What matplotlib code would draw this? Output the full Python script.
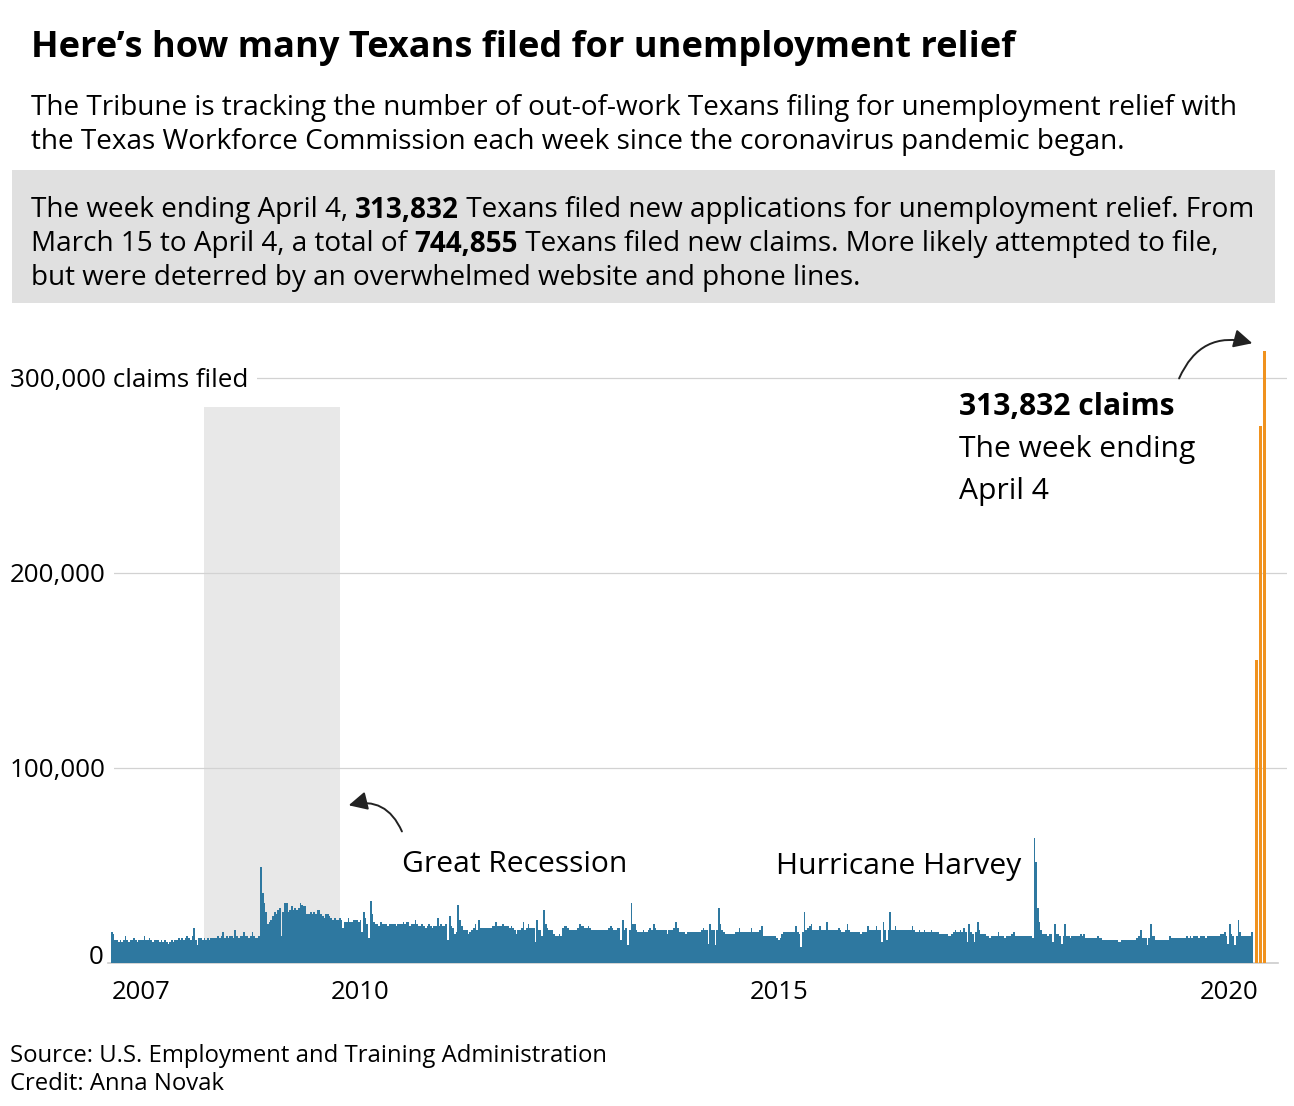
import matplotlib
matplotlib.use("Agg")
import matplotlib.pyplot as plt
from matplotlib.patches import Rectangle, FancyArrowPatch
import numpy as np

# ---------------- data ----------------
# weekly initial claims (thousands), from mid-2007 through the week ending March 14, 2020
claims_k = [
    16, 15, 12, 12, 11, 12, 11, 12, 14, 12, 11, 12, 12, 13, 12, 11, 12, 12, 12, 14,
    12, 12, 13, 12, 11, 12, 12, 12, 11, 12, 11, 12, 11, 10, 11, 12, 11, 12, 12, 13,
    12, 13, 12, 13, 14, 13, 12, 14, 18, 12, 9, 13, 13, 12, 13, 12, 13, 12, 13, 13,
    13, 13, 14, 13, 14, 16, 13, 14, 13, 14, 14, 13, 17, 14, 13, 14, 14, 16, 14, 14,
    13, 14, 16, 14, 13, 13, 14, 49, 36, 31, 26, 20, 21, 22, 24, 26, 25, 27, 28, 14,
    26, 31, 31, 26, 27, 29, 27, 28, 27, 28, 31, 30, 29, 29, 25, 25, 26, 25, 26, 25,
    27, 27, 25, 24, 23, 25, 25, 24, 23, 22, 23, 22, 22, 23, 22, 18, 21, 21, 23, 21,
    21, 22, 22, 22, 21, 22, 16, 26, 23, 20, 13, 32, 25, 21, 20, 20, 19, 21, 20, 20,
    20, 19, 20, 20, 20, 20, 19, 20, 20, 20, 21, 20, 21, 21, 19, 20, 20, 22, 20, 19,
    19, 20, 19, 18, 19, 20, 19, 18, 19, 19, 23, 19, 20, 19, 19, 20, 12, 24, 19, 18,
    15, 16, 30, 22, 19, 17, 17, 17, 15, 16, 17, 18, 20, 17, 22, 18, 18, 18, 18, 18,
    18, 18, 19, 19, 21, 19, 19, 19, 20, 19, 19, 19, 18, 19, 18, 17, 15, 17, 17, 18,
    21, 17, 18, 20, 18, 18, 18, 11, 22, 17, 17, 14, 27, 20, 18, 17, 17, 17, 15, 14,
    14, 15, 14, 18, 19, 19, 18, 17, 17, 17, 17, 17, 18, 20, 19, 19, 18, 18, 19, 18,
    17, 17, 17, 17, 17, 17, 17, 17, 17, 17, 18, 19, 18, 17, 17, 18, 18, 12, 22, 17,
    18, 9, 17, 31, 20, 20, 17, 16, 16, 16, 17, 16, 16, 17, 18, 17, 20, 18, 17, 17,
    17, 17, 17, 17, 15, 17, 17, 17, 18, 21, 18, 16, 16, 16, 16, 15, 16, 16, 16, 16,
    16, 16, 16, 16, 17, 18, 17, 17, 10, 20, 17, 17, 9, 17, 28, 20, 17, 16, 15, 15,
    15, 15, 15, 15, 16, 16, 18, 16, 16, 16, 16, 16, 16, 18, 16, 16, 16, 16, 17, 19,
    14, 14, 14, 14, 14, 14, 14, 14, 13, 12, 13, 15, 16, 16, 16, 16, 16, 16, 16, 19,
    16, 15, 8, 16, 26, 17, 18, 19, 20, 17, 17, 17, 17, 19, 17, 17, 17, 21, 17, 17,
    17, 17, 17, 17, 18, 17, 16, 16, 17, 20, 17, 16, 16, 16, 16, 16, 16, 15, 16, 16,
    16, 19, 17, 17, 17, 17, 19, 17, 17, 11, 21, 17, 12, 17, 26, 17, 17, 19, 17, 17,
    17, 17, 17, 17, 17, 17, 17, 19, 17, 16, 16, 17, 16, 16, 17, 16, 16, 16, 17, 16,
    16, 16, 16, 15, 15, 15, 15, 15, 14, 14, 15, 16, 17, 16, 16, 17, 16, 18, 16, 11,
    20, 16, 15, 11, 16, 21, 17, 15, 15, 15, 14, 14, 13, 14, 14, 14, 14, 16, 14, 14,
    14, 13, 14, 14, 14, 15, 16, 14, 14, 14, 14, 14, 14, 14, 14, 14, 14, 13, 64, 52,
    28, 21, 17, 15, 15, 15, 14, 15, 15, 11, 20, 15, 15, 14, 10, 14, 20, 14, 14, 13,
    14, 14, 14, 14, 14, 15, 14, 15, 13, 13, 13, 13, 13, 13, 13, 14, 13, 13, 12, 12,
    12, 12, 12, 12, 12, 12, 12, 11, 11, 12, 12, 12, 12, 12, 12, 12, 12, 12, 13, 14,
    17, 13, 13, 13, 9, 13, 20, 14, 14, 12, 12, 12, 12, 12, 12, 12, 12, 14, 13, 13,
    13, 13, 13, 13, 13, 13, 13, 14, 13, 14, 13, 14, 14, 14, 13, 14, 14, 14, 13, 14,
    14, 14, 14, 14, 14, 14, 14, 15, 15, 16, 14, 10, 20, 15, 14, 9, 14, 22, 16, 14,
    14, 14, 14, 14, 14, 16,
]
# pandemic weeks: weeks ending March 21, March 28, April 4, 2020
pandemic_weeks = ["March 21", "March 28", "April 4"]
pandemic_claims = [155426, 275597, 313832]

# x-axis year labels and the week index each sits under
year_labels = ["2007", "2010", "2015", "2020"]
year_label_week = [17.0, 144.7, 389.1, 651.5]

# Great Recession shading (week index span)
recession_weeks = (53.7, 133.0)
recession_top = 285000

y_ticks = [100000, 200000, 300000]
y_tick_labels = ["100,000", "200,000", "300,000 claims filed"]

# ---------------- styling ----------------
W, H = 1294, 1106
BLUE = "#2e78a0"
ORANGE = "#f0921e"
FONT = "Open Sans"
plt.rcParams["font.family"] = [FONT, "DejaVu Sans"]
DY = 2.5  # small downward nudge for text centring

fig = plt.figure(figsize=(W / 100, H / 100), dpi=100)


def fx(px):
    return px / W


def fy(py):
    return 1 - py / H


def ty(py):
    return fy(py + DY)


# axes geometry (pixels)
ax_left, ax_right = 10, 1287
ax_bottom, ax_top_val = 963, 325000
px_per_k = 1.95
ax_top = ax_bottom - ax_top_val / 1000 * px_per_k
ax = fig.add_axes([fx(ax_left), fy(ax_bottom), fx(ax_right) - fx(ax_left), (ax_bottom - ax_top) / H])

n = len(claims_k)
bar_left_px, bar_right_px = 111, 1253
w_px = (bar_right_px - bar_left_px) / n
x0 = (ax_left - bar_left_px) / w_px - 0.5
x1 = (ax_right - bar_left_px) / w_px - 0.5
ax.set_xlim(x0, x1)
ax.set_ylim(0, ax_top_val)
ax.axis("off")

weeks = np.arange(n)
vals = np.array(claims_k) * 1000
ax.bar(weeks, vals, width=1.0, color=BLUE, linewidth=0, zorder=3)

gap = 2.5
p_pos = n + 1.3 + gap * np.arange(len(pandemic_claims))
ax.bar(p_pos, pandemic_claims, width=1.8, color=ORANGE, linewidth=0, zorder=3)

# recession shade
ax.axvspan(recession_weeks[0], recession_weeks[1], ymin=0, ymax=recession_top / ax_top_val,
           color="#e8e8e8", zorder=0.5, linewidth=0)

# gridlines + labels
dy_val = DY / px_per_k * 1000
for v, lab in zip(y_ticks, y_tick_labels):
    ax.axhline(v, color="#d2d2d2", linewidth=0.9, zorder=1)
    ax.text(x0, v - dy_val, lab, fontsize=18.7, ha="left", va="center", zorder=2,
            bbox=dict(facecolor="white", edgecolor="none", pad=6))
ax.plot([-2, n + 14], [0, 0], color="#cccccc", linewidth=1.2, zorder=2, clip_on=False)
fig.text(fx(104), ty(955), "0", fontsize=18.7, ha="right", va="center")

for lab, pos in zip(year_labels, year_label_week):
    ax.text(pos, -(27 + DY) / px_per_k * 1000, lab, fontsize=18.5, ha="center", va="center")

# ---------------- header ----------------
fig.text(fx(31), ty(45), "Here\u2019s how many Texans filed for unemployment relief",
         fontsize=26, fontweight="bold", ha="left", va="center")
fig.text(fx(31), ty(106), "The Tribune is tracking the number of out-of-work Texans filing for unemployment relief with",
         fontsize=20.1, ha="left", va="center")
fig.text(fx(31), ty(140), "the Texas Workforce Commission each week since the coronavirus pandemic began.",
         fontsize=20.1, ha="left", va="center")

fig.patches.append(Rectangle((fx(12), fy(303)), fx(1275) - fx(12), (303 - 170) / H,
                             transform=fig.transFigure, facecolor="#e0e0e0", edgecolor="none", zorder=0))

renderer = fig.canvas.get_renderer()


def rich_line(parts, x_px, y_px, size=20.1):
    x = fx(x_px)
    for txt, bold in parts:
        t = fig.text(x, ty(y_px), txt, fontsize=size, fontweight="bold" if bold else "normal",
                     ha="left", va="center")
        bb = t.get_window_extent(renderer=renderer)
        x = bb.x1 / fig.bbox.width


total = f"{sum(pandemic_claims):,}"
rich_line([("The week ending April 4, ", False), (f"{pandemic_claims[-1]:,}", True),
           (" Texans filed new applications for unemployment relief. From", False)], 31, 208)
rich_line([("March 15 to April 4, a total of ", False), (total, True),
           (" Texans filed new claims. More likely attempted to file,", False)], 31, 242)
rich_line([("but were deterred by an overwhelmed website and phone lines.", False)], 31, 276)

# ---------------- annotations ----------------
ann = 21.6
fig.text(fx(959), ty(405), f"{pandemic_claims[-1]:,} claims", fontsize=ann, fontweight="bold",
         ha="left", va="center")
fig.text(fx(959), ty(447), "The week ending", fontsize=ann, ha="left", va="center")
fig.text(fx(959), ty(489), pandemic_weeks[-1], fontsize=ann, ha="left", va="center")

fig.text(fx(402), ty(862), "Great Recession", fontsize=ann, ha="left", va="center")
fig.text(fx(776), ty(864), "Hurricane Harvey", fontsize=ann, ha="left", va="center")

arrow_kw = dict(arrowstyle="-|>,head_length=0.8,head_width=0.4", color="#222222", linewidth=1.4,
                mutation_scale=14, transform=fig.transFigure)
fig.patches.append(FancyArrowPatch((fx(1178), fy(381)), (fx(1255), fy(344)),
                                   connectionstyle="arc3,rad=-0.45", **arrow_kw))
fig.patches.append(FancyArrowPatch((fx(403), fy(834)), (fx(346), fy(806)),
                                   connectionstyle="arc3,rad=0.45", **arrow_kw))

# ---------------- footer ----------------
fig.text(fx(10), ty(1053), "Source: U.S. Employment and Training Administration", fontsize=17.2,
         ha="left", va="center")
fig.text(fx(10), ty(1081), "Credit: Anna Novak", fontsize=17.2, ha="left", va="center")

fig.savefig("out.png", dpi=100, facecolor="white")
